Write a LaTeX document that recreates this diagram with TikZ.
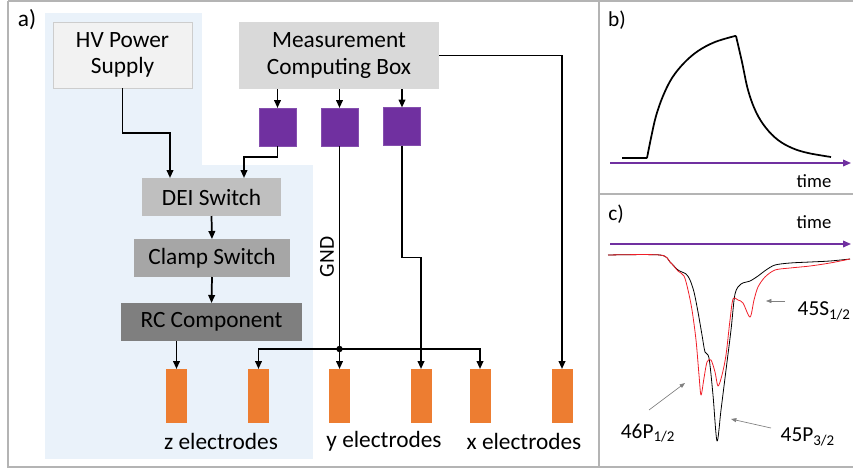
\documentclass[tikz,border=0pt]{standalone}
\usepackage{fontspec}
\setmainfont{Carlito}
\usetikzlibrary{arrows.meta,calc}
\definecolor{bgblue}{RGB}{234,242,250}
\definecolor{framegray}{RGB}{180,180,180}
\definecolor{hvfill}{RGB}{242,242,242}
\definecolor{hvdraw}{RGB}{205,205,205}
\definecolor{mcbfill}{RGB}{217,217,217}
\definecolor{deifill}{RGB}{191,191,191}
\definecolor{clampfill}{RGB}{166,166,166}
\definecolor{rcfill}{RGB}{127,127,127}
\definecolor{purp}{RGB}{112,48,160}
\definecolor{orng}{RGB}{237,125,49}
\definecolor{annot}{RGB}{128,128,128}
\definecolor{sigred}{RGB}{240,30,40}
\tikzset{
  sz/.style 2 args={minimum width=#1*0.75pt, minimum height=#2*0.75pt, inner sep=0pt, outer sep=0pt},
  mainfont/.style={font=\fontsize{17.5}{20}\selectfont},
  box/.style={mainfont, align=center},
  psq/.style={fill=purp, draw=purp!85!white, sz={37}{38}},
  elec/.style={fill=orng, sz={21}{54}},
  arr/.style={draw=black, line width=1.3pt, -{Triangle[length=6pt,width=5pt]}},
  timearr/.style={draw=purp, line width=1.1pt, -{Triangle[length=6pt,width=5pt]}},
  ann/.style={draw=annot, line width=0.5pt, -{Triangle[length=4pt,width=3pt]}},
  lbl/.style={font=\fontsize{16}{18}\selectfont},
}
\begin{document}
\begin{tikzpicture}[x=0.75pt,y=-0.75pt]
\useasboundingbox (0,0) rectangle (853,469);
% background regions
\fill[bgblue] (45,13) rectangle (202,165);
\fill[bgblue] (45,165) rectangle (313,459);
% frame
\draw[framegray, line width=1.5pt] (8,1) -- (853,1);
\draw[framegray, line width=1.8pt] (8,1) -- (8,467) -- (853,467);
\draw[framegray, line width=1.5pt] (599,1) -- (599,467);
\draw[framegray, line width=1.5pt] (599,194) -- (853,194);

% panel labels
\node[mainfont] (la) at (27,20) {a)};
\node[lbl] (lb) at (617,20) {b)};
\node[lbl] (lc) at (616,214) {c)};

% boxes
\node[box, fill=hvfill, draw=hvdraw, line width=0.6pt, sz={139}{66}] (HV) at (122.5,55) {HV Power\\Supply};
\node[box, fill=mcbfill, sz={200}{67}] (MCB) at (339,55.5) {Measurement\\Computing Box};
\node[psq] (p1) at (277.5,127) {};
\node[psq] (p2) at (339.5,127) {};
\node[psq] (p3) at (402,126.5) {};
\node[box, fill=deifill, sz={139}{38}] (DEI) at (211.5,197) {DEI Switch};
\node[box, fill=clampfill, sz={156}{38}] (CL) at (212,258) {Clamp Switch};
\node[box, fill=rcfill, sz={181}{38}] (RC) at (211.5,322) {RC Component};

% electrodes
\node[elec] (e1) at (176.5,396) {};
\node[elec] (e2) at (258.5,396) {};
\node[elec] (e3) at (339.5,396) {};
\node[elec] (e4) at (421,396) {};
\node[elec] (e5) at (480,396) {};
\node[elec] (e6) at (562,396) {};
\node[mainfont] (zl) at (221,441) {z electrodes};
\node[mainfont] (yl) at (384,441) {y electrodes};
\node[mainfont] (xl) at (524,441) {x electrodes};

% connectors
\draw[arr] (HV.south) -- ++(0,45) -| ([xshift=28*0.75pt]DEI.north west);
\draw[arr] (p1.south) -- ++(0,11) -| ([xshift=102*0.75pt]DEI.north west);
\draw[arr] (p1.north |- MCB.south) -- (p1.north);
\draw[arr] (p2.north |- MCB.south) -- (p2.north);
\draw[arr] (p3.north |- MCB.south) -- (p3.north);
\draw[arr] (MCB.east) -| (e6.north);
\draw[arr] (DEI.south) -- (CL.north);
\draw[arr] (CL.south) -- (RC.north);
\draw[arr] (e1.north |- RC.south) -- (e1.north);
\draw[arr] (p2.south) -- (e3.north);
\node[font=\fontsize{16}{18}\selectfont, rotate=90] (gnd) at (327,257) {GND};
\coordinate (J) at (339.5,349);
\draw[arr] (J) -| (e2.north);
\draw[arr] (J) -| (e5.north);
\fill (J) circle (3.2);
\draw[arr] (p3.south) -- ++(0,112) -| (e4.north);

% panel b
\coordinate (bt0) at (610,163);
\coordinate (bt1) at (851,163);
\draw[timearr] (bt0) -- (bt1);
\node[font=\fontsize{14}{16}\selectfont] (tb) at (814,181) {time};
\draw[black, line width=1.3pt, line join=round]
  (622,158) -- (647,158)
  plot[smooth, tension=0.6] coordinates {(647,158) (651,138) (656,116) (663,96) (672,78) (684,63) (698,51) (715,42) (735,36)}
  -- (736,36)
  plot[smooth, tension=0.6] coordinates {(736,36) (742,62) (748,90) (756,112) (766,128) (778,140) (792,148) (808,153) (831,157)};

% panel c
\coordinate (ct0) at (610,244);
\coordinate (ct1) at (851,244);
\draw[timearr] (ct0) -- (ct1);
\node[font=\fontsize{14}{16}\selectfont] (tc) at (814,222) {time};
\draw[black, line width=0.6pt, line join=round]
  plot[smooth, tension=0.5] coordinates {(608,255) (660,255) (670,262) (678,270) (686,274) (690,280) (694,292) (698,312) (702,335) (705,352) (709,358) (713,395) (717,441) (721,410) (726,370) (731,330) (735,294) (741,284) (750,281) (758,276) (766,270) (775,265) (790,263) (810,262) (830,261) (850,259)};
\draw[sigred, line width=0.6pt, line join=round]
  plot[smooth, tension=0.5] coordinates {(608,255) (660,255) (670,262) (678,271) (684,276) (688,290) (692,310) (696,340) (699,375) (701,395) (704,378) (707,362) (711,360) (715,372) (718,386) (722,375) (726,355) (730,320) (733,299) (738,300) (743,303) (750,317) (754,300) (758,287) (765,277) (775,270) (790,268) (810,266) (830,263) (850,259)};
\node[lbl, anchor=west] (s45) at (793,311) {45S\textsubscript{1/2}};
\node[lbl] (p46) at (648,433) {46P\textsubscript{1/2}};
\node[lbl, anchor=west] (p45) at (776,437) {45P\textsubscript{3/2}};
\coordinate (as0) at (785,301);
\coordinate (as1) at (766,301);
\coordinate (a46a) at (649,410);
\coordinate (a46b) at (685,383);
\coordinate (a45a) at (771,428);
\coordinate (a45b) at (731,419);
\draw[ann] (as0) -- (as1);
\draw[ann] (a46a) -- (a46b);
\draw[ann] (a45a) -- (a45b);
\end{tikzpicture}
\end{document}
